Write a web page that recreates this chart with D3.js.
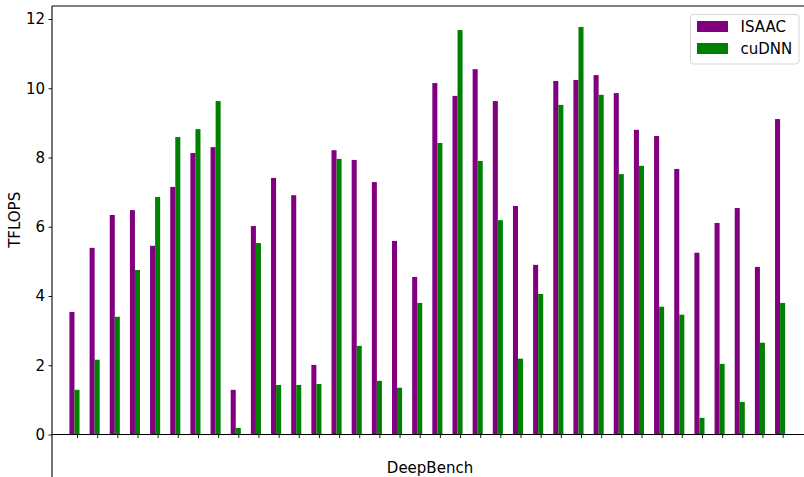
<!DOCTYPE html>
<html>
<head>
<meta charset="utf-8">
<script src="https://cdn.jsdelivr.net/npm/d3@7"></script>
<style>
  body { margin: 0; background: #fff; }
  svg { display: block; font-family: "DejaVu Sans", sans-serif; }
</style>
</head>
<body>
<div id="chart"></div>
<script>
// one entry per DeepBench problem (36 in total)
const isaac = [3.54, 5.39, 6.34, 6.48, 5.45, 7.15, 8.13, 8.30, 1.29, 6.02,
               7.41, 6.91, 2.01, 8.21, 7.93, 7.29, 5.59, 4.55, 10.15, 9.78,
               10.55, 9.63, 6.60, 4.90, 10.21, 10.24, 10.38, 9.86, 8.80, 8.62,
               7.67, 5.25, 6.11, 6.54, 4.84, 9.11];
const cudnn = [1.29, 2.16, 3.40, 4.75, 6.86, 8.59, 8.82, 9.63, 0.19, 5.53,
               1.43, 1.43, 1.46, 7.96, 2.56, 1.55, 1.35, 3.80, 8.42, 11.68,
               7.90, 6.19, 2.19, 4.06, 9.52, 11.77, 9.81, 7.52, 7.76, 3.69,
               3.46, 0.48, 2.04, 0.94, 2.65, 3.80];
const seriesNames = ["ISAAC", "cuDNN"];
const seriesColors = ["#800080", "#008000"];
const yTicks = [0, 2, 4, 6, 8, 10, 12];

const width = 804, height = 477;
const box = { left: 52, right: 808, top: 6, bottom: 477 };
const fontSize = 15;

const svg = d3.select("#chart").append("svg")
    .attr("width", width)
    .attr("height", height);

const idx = d3.range(isaac.length);

const xScale = d3.scaleLinear().domain([-1.24, 36.26]).range([box.left, box.right]);
const yScale = d3.scaleLinear().domain([0, 12]).range([434.5, 19]);
const barW = xScale(0.25) - xScale(0);

// bars: ticks sit under the centre of the cuDNN bar
const groups = [isaac, cudnn];
groups.forEach((vals, s) => {
    svg.append("g")
        .selectAll("rect")
        .data(idx)
        .enter()
        .append("rect")
        .attr("x", i => xScale(i) - (s === 0 ? 1.5 : 0.5) * barW)
        .attr("width", barW)
        .attr("y", i => yScale(vals[i]))
        .attr("height", i => yScale(0) - yScale(vals[i]))
        .attr("fill", seriesColors[s]);
});

// y axis
const yAxis = d3.axisLeft(yScale).tickValues(yTicks).tickSize(3.5).tickPadding(3.5);
const yg = svg.append("g")
    .attr("transform", `translate(${box.left},0)`)
    .call(yAxis);
yg.select(".domain").remove();
yg.selectAll("text").attr("font-size", fontSize).attr("fill", "#000")
    .attr("font-family", "DejaVu Sans, sans-serif");
yg.selectAll("line").attr("stroke", "#000").attr("stroke-width", 0.9);

// x axis sits at zero
const xAxis = d3.axisBottom(xScale).tickValues(idx).tickSize(3.5).tickFormat("");
const xg = svg.append("g")
    .attr("transform", `translate(0,${yScale(0)})`)
    .call(xAxis);
xg.select(".domain").remove();
xg.selectAll("line").attr("stroke", "#000").attr("stroke-width", 0.9);

// spines
svg.append("line")
    .attr("x1", box.left).attr("x2", box.left)
    .attr("y1", box.top).attr("y2", box.bottom)
    .attr("stroke", "#000").attr("stroke-width", 1.1);
svg.append("line")
    .attr("x1", box.left).attr("x2", box.right)
    .attr("y1", box.top).attr("y2", box.top)
    .attr("stroke", "#000").attr("stroke-width", 1.1);
svg.append("line")
    .attr("x1", box.left).attr("x2", box.right)
    .attr("y1", yScale(0)).attr("y2", yScale(0))
    .attr("stroke", "#000").attr("stroke-width", 1.1);

// labels
svg.append("text")
    .attr("transform", `translate(20,${yScale(6.2)}) rotate(-90)`)
    .attr("text-anchor", "middle")
    .attr("font-size", fontSize)
    .text("TFLOPS");

svg.append("text")
    .attr("x", (box.left + box.right) / 2)
    .attr("y", 473)
    .attr("text-anchor", "middle")
    .attr("font-size", fontSize)
    .text("DeepBench");

// legend
const legend = svg.append("g").attr("transform", "translate(690.5,14.5)");
legend.append("rect")
    .attr("width", 108.5).attr("height", 49.5)
    .attr("rx", 3)
    .attr("fill", "#fff").attr("fill-opacity", 0.8)
    .attr("stroke", "#d6d6d6");
seriesNames.forEach((name, i) => {
    legend.append("rect")
        .attr("x", 6.5).attr("y", 6.5 + i * 22)
        .attr("width", 31).attr("height", 11)
        .attr("fill", seriesColors[i]);
    legend.append("text")
        .attr("x", 50).attr("y", 17.2 + i * 22.3)
        .attr("font-size", fontSize)
        .text(name);
});
</script>
</body>
</html>
